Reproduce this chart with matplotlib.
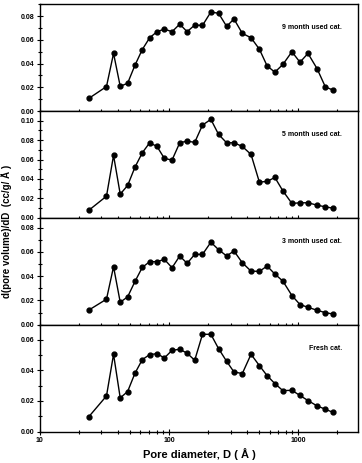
import matplotlib
matplotlib.use("Agg")
import matplotlib.pyplot as plt
import numpy as np

plt.rcParams['font.family'] = ['Liberation Sans', 'DejaVu Sans']
plt.rcParams['font.weight'] = 'bold'

# pore diameter (A)
diam = [24, 32.8, 37.2, 41.9, 47.8, 54.5, 62.1, 70.8, 80.7, 92, 105.5, 121, 138, 158,
        181.5, 210.7, 241.7, 279, 318, 369, 431, 500, 574, 659, 760, 893, 1031, 1189,
        1396, 1621, 1849]

m9 = [0.0107, 0.0206, 0.0485, 0.0208, 0.0234, 0.0386, 0.0518, 0.0617, 0.0668, 0.069,
      0.0668, 0.0732, 0.0668, 0.0724, 0.0721, 0.0834, 0.0823, 0.0713, 0.0775, 0.0654,
      0.0617, 0.0521, 0.038, 0.0327, 0.0392, 0.0499, 0.0411, 0.0485, 0.0358, 0.0203, 0.0177]

m5 = [0.0079, 0.0223, 0.0643, 0.0244, 0.0333, 0.0522, 0.067, 0.0773, 0.0735, 0.0612,
      0.0595, 0.0773, 0.079, 0.0777, 0.0955, 0.1014, 0.0859, 0.0773, 0.0773, 0.0735,
      0.0653, 0.0368, 0.0375, 0.0416, 0.0278, 0.0148, 0.0155, 0.0155, 0.0131, 0.0113, 0.01]

m3 = [0.0121, 0.021, 0.0477, 0.0185, 0.0229, 0.0356, 0.0472, 0.0519, 0.0519, 0.0538,
      0.0469, 0.0566, 0.0505, 0.0579, 0.0579, 0.0679, 0.0618, 0.0566, 0.0607, 0.051,
      0.0441, 0.0439, 0.0483, 0.0417, 0.0359, 0.024, 0.0166, 0.0143, 0.0119, 0.0099, 0.0088]

fresh = [0.0098, 0.0233, 0.0506, 0.022, 0.0262, 0.0382, 0.0471, 0.0504, 0.051, 0.0482,
         0.0532, 0.0539, 0.0513, 0.0467, 0.0637, 0.0637, 0.0543, 0.046, 0.039, 0.038,
         0.0506, 0.0432, 0.0366, 0.0314, 0.0268, 0.027, 0.0236, 0.0203, 0.0168, 0.0146, 0.0126]

series = [m9, m5, m3, fresh]
labels = ["9 month used cat.", "5 month used cat.", "3 month used cat.", "Fresh cat."]
ytops = [0.09, 0.11, 0.088, 0.07]
yticks = [[0, 0.02, 0.04, 0.06, 0.08],
          [0, 0.02, 0.04, 0.06, 0.08, 0.10],
          [0, 0.02, 0.04, 0.06, 0.08],
          [0, 0.02, 0.04, 0.06]]

fig, axes = plt.subplots(4, 1, figsize=(3.62, 4.63), dpi=100, sharex=True)
fig.subplots_adjust(left=0.11, right=0.989, top=0.991, bottom=0.068, hspace=0)

for ax, y, lab, yt, ticks in zip(axes, series, labels, ytops, yticks):
    ax.plot(diam, y, '-o', color='black', lw=1, ms=3.5, clip_on=False, zorder=3)
    ax.set_xscale('log')
    ax.set_xlim(10, 2900)
    ax.set_ylim(0, yt)
    ax.set_yticks(ticks)
    ax.set_yticklabels(["%.2f" % t for t in ticks])
    ax.yaxis.set_minor_locator(matplotlib.ticker.MultipleLocator(0.01))
    ax.tick_params(which='both', direction='inout', labelsize=5, width=0.8, pad=2)
    ax.tick_params(which='major', length=4)
    ax.tick_params(which='minor', length=2.5)
    ax.tick_params(axis='x', which='minor', length=3)
    for s in ax.spines.values():
        s.set_linewidth(1)
    ax.text(0.95, 0.78, lab, transform=ax.transAxes, ha='right', va='center',
            fontsize=5, fontweight='bold')

axes[-1].set_xticks([10, 100, 1000])
axes[-1].set_xticklabels(["10", "100", "1000"])
axes[-1].set_xlabel("Pore diameter, D ( \u00c5 )", fontsize=8, fontweight='bold', labelpad=3)
fig.text(0.018, 0.5, "d(pore volume)/dD  (cc/g/ \u00c5 )", rotation=90, ha='center',
         va='center', fontsize=7, fontweight='bold')

fig.savefig("out.png", dpi=100)
